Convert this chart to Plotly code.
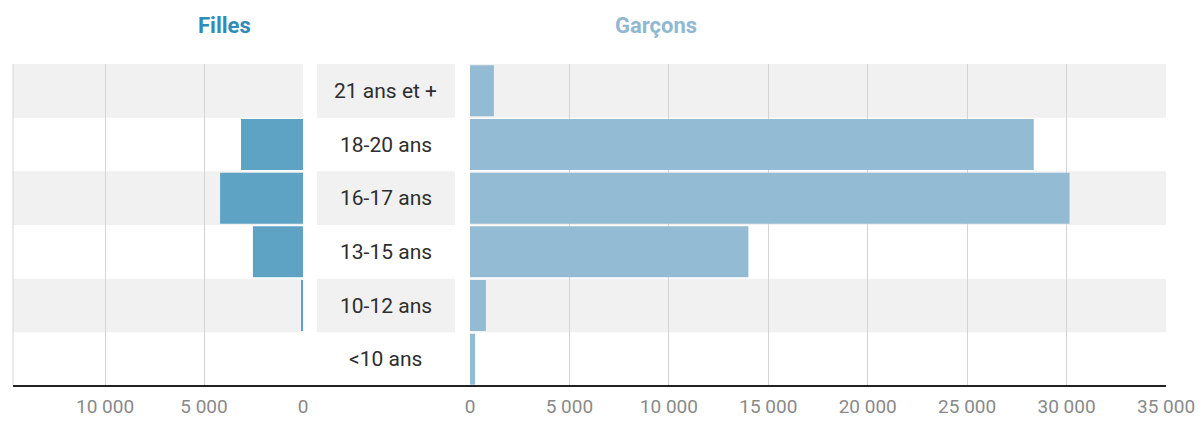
import plotly.graph_objects as go

# ---- data ----
categories = ["<10 ans", "10-12 ans", "13-15 ans", "16-17 ans", "18-20 ans", "21 ans et +"]
filles = [0, 70, 2530, 4190, 3130, 0]
garcons = [250, 800, 14000, 30150, 28350, 1200]

left_tickvals = [10000, 5000, 0]
left_ticktext = ["10 000", "5 000", "0"]
right_tickvals = [0, 5000, 10000, 15000, 20000, 25000, 30000, 35000]
right_ticktext = ["0", "5 000", "10 000", "15 000", "20 000", "25 000", "30 000", "35 000"]

# ---- style ----
FONT = "Roboto, Arial, sans-serif"
C_F = "#5ea2c4"
C_G = "#93bbd3"
BAND = "#f1f1f1"
GRID = "#d4d4d4"

W, H = 1203, 421
ml, mr, mt, mb = 13, 37, 64, 35
pw = W - ml - mr
def px(x):
    return (x - ml) / pw

dom_left = [0, px(303)]
dom_mid = [px(317), px(455)]
dom_right = [px(470), 1]

fig = go.Figure()
fig.add_trace(go.Bar(y=categories, x=filles, orientation="h", marker=dict(color=C_F, line_width=0),
                     xaxis="x", yaxis="y", showlegend=False, hoverinfo="skip"))
fig.add_trace(go.Bar(y=categories, x=garcons, orientation="h", marker=dict(color=C_G, line_width=0),
                     xaxis="x3", yaxis="y", showlegend=False, hoverinfo="skip"))

shapes = []
annotations = []
for i, cat in enumerate(categories):
    if i % 2 == 1:
        for (a, b) in (dom_left, dom_mid, dom_right):
            shapes.append(dict(type="rect", xref="paper", yref="y", x0=a, x1=b, y0=i - 0.5, y1=i + 0.5,
                               fillcolor=BAND, line_width=0, layer="below"))
    annotations.append(dict(x=(dom_mid[0] + dom_mid[1]) / 2, xref="paper", y=cat, yref="y",
                            text=cat, showarrow=False, xanchor="center", yanchor="middle",
                            font=dict(family=FONT, size=21, color="#2e2e2e")))

# left edge line
shapes.append(dict(type="line", xref="paper", yref="paper", x0=0, x1=0, y0=0, y1=1,
                   line=dict(color=GRID, width=1), layer="below"))
# base axis line
shapes.append(dict(type="line", xref="paper", yref="paper", x0=0, x1=1, y0=0, y1=0,
                   line=dict(color="#222222", width=2), layer="above"))

annotations.append(dict(x=px(224), xref="paper", xanchor="center", y=1, yref="paper", yshift=39,
                        yanchor="middle", text="<b>Filles</b>", showarrow=False,
                        font=dict(family=FONT, size=22, color="#2f8cb6")))
annotations.append(dict(x=px(656), xref="paper", xanchor="center", y=1, yref="paper", yshift=39,
                        yanchor="middle", text="<b>Garçons</b>", showarrow=False,
                        font=dict(family=FONT, size=22, color="#90b8d1")))

axis_common = dict(showgrid=True, gridcolor=GRID, gridwidth=1, zeroline=True,
                   zerolinecolor="rgba(0,0,0,0)", zerolinewidth=0, ticks="", showline=False,
                   tickfont=dict(family=FONT, size=19, color="#8a8a8a"), ticklabelstandoff=7,
                   tickmode="array", fixedrange=True, automargin=False)

fig.update_layout(
    width=W, height=H,
    margin=dict(l=ml, r=mr, t=mt, b=mb, autoexpand=False),
    paper_bgcolor="white", plot_bgcolor="rgba(0,0,0,0)",
    bargap=0.05,
    xaxis=dict(domain=dom_left, range=[14650, 0], tickvals=left_tickvals, ticktext=left_ticktext,
               anchor="y", **axis_common),
    xaxis3=dict(domain=dom_right, range=[0, 35000], tickvals=right_tickvals, ticktext=right_ticktext,
                anchor="y", **axis_common),
    yaxis=dict(categoryorder="array", categoryarray=categories, showticklabels=False,
               showgrid=False, zeroline=False, range=[-0.5, len(categories) - 0.5], fixedrange=True,
               automargin=False),
    shapes=shapes,
    annotations=annotations,
    hovermode=False,
)

fig.write_html("out.html", config={"displayModeBar": False},
               post_script="document.body.style.margin='0';document.body.style.overflow='hidden';")
